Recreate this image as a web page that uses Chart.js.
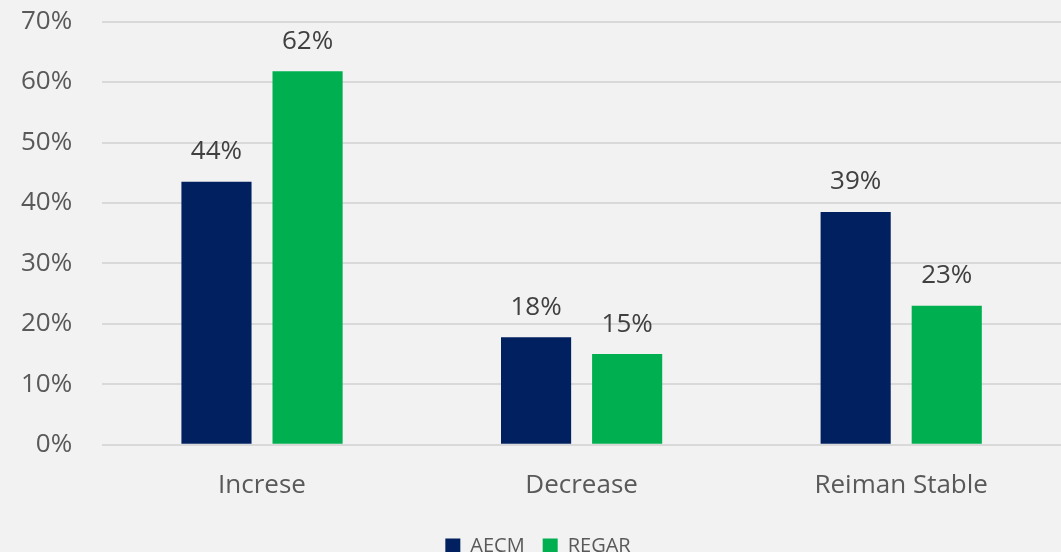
<!DOCTYPE html>
<html>
<head>
<meta charset="utf-8">
<script src="https://cdn.jsdelivr.net/npm/chart.js@4"></script>
<style>
  html, body { margin: 0; padding: 0; background: #f2f2f2; }
  #wrap { width: 1061px; height: 552px; }
</style>
</head>
<body>
<div id="wrap"><canvas id="chart"></canvas></div>
<script>
const categories = ['Increse', 'Decrease', 'Reiman Stable'];
const aecm = [43.5, 17.8, 38.5];
const regar = [61.8, 15.0, 23.0];
const aecmLabels = ['44%', '18%', '39%'];
const regarLabels = ['62%', '15%', '23%'];

const FONT = '"Open Sans", Lato, sans-serif';

// draws the value text above each bar
const barLabels = {
    id: 'barLabels',
    afterDatasetsDraw(chart) {
        const ctx = chart.ctx;
        ctx.save();
        ctx.fillStyle = '#404040';
        ctx.font = '26px ' + FONT;
        ctx.textAlign = 'center';
        ctx.textBaseline = 'middle';
        chart.data.datasets.forEach((ds, i) => {
            chart.getDatasetMeta(i).data.forEach((bar, j) => {
                ctx.fillText(ds.valueLabels[j], bar.x, bar.y - 30);
            });
        });
        ctx.restore();
    }
};

new Chart(document.getElementById('chart'), {
    type: 'bar',
    data: {
        labels: categories,
        datasets: [
            { label: 'AECM', data: aecm, valueLabels: aecmLabels, backgroundColor: '#002060' },
            { label: 'REGAR', data: regar, valueLabels: regarLabels, backgroundColor: '#00b050' }
        ]
    },
    options: {
        responsive: true,
        maintainAspectRatio: false,
        animation: false,
        categoryPercentage: 0.57,
        barPercentage: 0.77,
        layout: { padding: { top: 0, right: 0, bottom: -14, left: 15 } },
        plugins: {
            legend: {
                position: 'bottom',
                labels: {
                    color: '#595959',
                    font: { family: FONT, size: 20 },
                    boxWidth: 15,
                    boxHeight: 15,
                    padding: 18
                }
            },
            tooltip: { enabled: false }
        },
        scales: {
            x: {
                grid: { display: false },
                border: { color: '#d9d9d9' },
                ticks: {
                    color: '#595959',
                    font: { family: FONT, size: 26 },
                    padding: 17
                }
            },
            y: {
                min: 0,
                max: 70,
                grid: { color: '#d9d9d9', lineWidth: 2, tickLength: 24, tickColor: 'rgba(0,0,0,0)' },
                border: { display: false },
                ticks: {
                    stepSize: 10,
                    color: '#595959',
                    font: { family: FONT, size: 26 },
                    padding: 6,
                    callback: v => v + '%'
                }
            }
        }
    },
    plugins: [barLabels]
});
</script>
</body>
</html>
